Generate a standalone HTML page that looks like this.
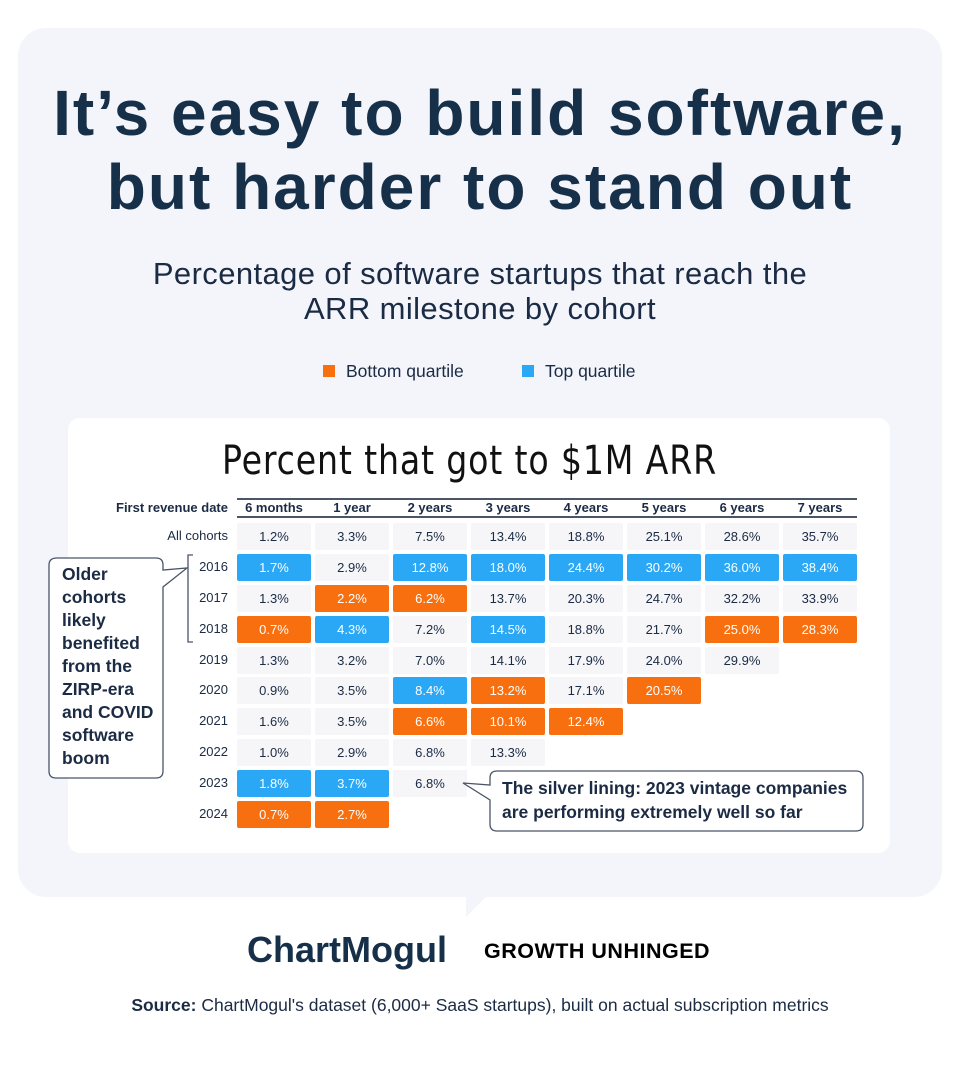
<!DOCTYPE html>
<html><head><meta charset="utf-8"><style>
*{margin:0;padding:0;box-sizing:border-box}
body{width:960px;height:1075px;background:#fff;position:relative;font-family:"Liberation Sans",sans-serif;color:#1b2b44;overflow:hidden}
.a{position:absolute}
.panel{left:18px;top:28px;width:924px;height:869px;background:#f4f5fb;border-radius:28px}
.tail{left:466px;top:895px;width:0;height:0;border-left:0 solid transparent;border-right:22px solid transparent;border-top:22px solid #f4f5fb}
.card{left:68px;top:418px;width:822px;height:435px;background:#fff;border-radius:12px}
.t{width:960px;text-align:center;font-weight:bold;font-size:64px;letter-spacing:2px;color:#17304a;white-space:nowrap}
.s{width:960px;text-align:center;font-size:31px;letter-spacing:0.4px;color:#1b2b44}
.c{width:74px;height:27px;line-height:27px;text-align:center;font-size:13px;background:#f6f6f8;border-radius:2px;color:#1b2b44}
.B{background:#2aa8f5;color:#fff}
.O{background:#f76f0f;color:#fff}
.h{font-size:13px;font-weight:bold;width:74px;text-align:center;top:500px}
.y{left:150px;width:78px;text-align:right;font-size:13px}
</style></head><body>
<div class="a panel"></div>
<div class="a tail"></div>
<div class="a t" style="top:76px">It’s easy to build software,</div>
<div class="a t" style="top:150px">but harder to stand out</div>
<div class="a s" style="top:256px">Percentage of software startups that reach the</div>
<div class="a s" style="top:291px">ARR milestone by cohort</div>
<div class="a" style="left:323px;top:365px;width:12px;height:12px;background:#f76f0f"></div>
<div class="a" style="left:346px;top:361px;font-size:17.5px">Bottom quartile</div>
<div class="a" style="left:522px;top:365px;width:12px;height:12px;background:#2aa8f5"></div>
<div class="a" style="left:545px;top:361px;font-size:17.5px">Top quartile</div>
<div class="a card"></div>
<div class="a" style="left:222px;top:438px;font-size:40px;color:#111;transform:scaleX(0.83);transform-origin:left;font-family:'DejaVu Sans','Liberation Sans',sans-serif;font-weight:normal;letter-spacing:1px">Percent that got to $1M ARR</div>
<div class="a" style="left:237px;top:498px;width:620px;height:2px;background:#4a5568"></div>
<div class="a" style="left:237px;top:516px;width:620px;height:2px;background:#4a5568"></div>
<div class="a" style="left:80px;top:500px;width:148px;text-align:right;font-size:13px;font-weight:bold">First revenue date</div>
<div class="a h" style="left:237px">6 months</div><div class="a h" style="left:315px">1 year</div><div class="a h" style="left:393px">2 years</div><div class="a h" style="left:471px">3 years</div><div class="a h" style="left:549px">4 years</div><div class="a h" style="left:627px">5 years</div><div class="a h" style="left:705px">6 years</div><div class="a h" style="left:783px">7 years</div>

<div class="a y" style="top:528px">All cohorts</div>
<div class="a c" style="left:237px;top:523px">1.2%</div><div class="a c" style="left:315px;top:523px">3.3%</div><div class="a c" style="left:393px;top:523px">7.5%</div><div class="a c" style="left:471px;top:523px">13.4%</div><div class="a c" style="left:549px;top:523px">18.8%</div><div class="a c" style="left:627px;top:523px">25.1%</div><div class="a c" style="left:705px;top:523px">28.6%</div><div class="a c" style="left:783px;top:523px">35.7%</div>

<div class="a y" style="top:559px">2016</div>
<div class="a c B" style="left:237px;top:554px">1.7%</div><div class="a c" style="left:315px;top:554px">2.9%</div><div class="a c B" style="left:393px;top:554px">12.8%</div><div class="a c B" style="left:471px;top:554px">18.0%</div><div class="a c B" style="left:549px;top:554px">24.4%</div><div class="a c B" style="left:627px;top:554px">30.2%</div><div class="a c B" style="left:705px;top:554px">36.0%</div><div class="a c B" style="left:783px;top:554px">38.4%</div>

<div class="a y" style="top:590px">2017</div>
<div class="a c" style="left:237px;top:585px">1.3%</div><div class="a c O" style="left:315px;top:585px">2.2%</div><div class="a c O" style="left:393px;top:585px">6.2%</div><div class="a c" style="left:471px;top:585px">13.7%</div><div class="a c" style="left:549px;top:585px">20.3%</div><div class="a c" style="left:627px;top:585px">24.7%</div><div class="a c" style="left:705px;top:585px">32.2%</div><div class="a c" style="left:783px;top:585px">33.9%</div>

<div class="a y" style="top:621px">2018</div>
<div class="a c O" style="left:237px;top:616px">0.7%</div><div class="a c B" style="left:315px;top:616px">4.3%</div><div class="a c" style="left:393px;top:616px">7.2%</div><div class="a c B" style="left:471px;top:616px">14.5%</div><div class="a c" style="left:549px;top:616px">18.8%</div><div class="a c" style="left:627px;top:616px">21.7%</div><div class="a c O" style="left:705px;top:616px">25.0%</div><div class="a c O" style="left:783px;top:616px">28.3%</div>

<div class="a y" style="top:652px">2019</div>
<div class="a c" style="left:237px;top:647px">1.3%</div><div class="a c" style="left:315px;top:647px">3.2%</div><div class="a c" style="left:393px;top:647px">7.0%</div><div class="a c" style="left:471px;top:647px">14.1%</div><div class="a c" style="left:549px;top:647px">17.9%</div><div class="a c" style="left:627px;top:647px">24.0%</div><div class="a c" style="left:705px;top:647px">29.9%</div>

<div class="a y" style="top:682px">2020</div>
<div class="a c" style="left:237px;top:677px">0.9%</div><div class="a c" style="left:315px;top:677px">3.5%</div><div class="a c B" style="left:393px;top:677px">8.4%</div><div class="a c O" style="left:471px;top:677px">13.2%</div><div class="a c" style="left:549px;top:677px">17.1%</div><div class="a c O" style="left:627px;top:677px">20.5%</div>

<div class="a y" style="top:713px">2021</div>
<div class="a c" style="left:237px;top:708px">1.6%</div><div class="a c" style="left:315px;top:708px">3.5%</div><div class="a c O" style="left:393px;top:708px">6.6%</div><div class="a c O" style="left:471px;top:708px">10.1%</div><div class="a c O" style="left:549px;top:708px">12.4%</div>

<div class="a y" style="top:744px">2022</div>
<div class="a c" style="left:237px;top:739px">1.0%</div><div class="a c" style="left:315px;top:739px">2.9%</div><div class="a c" style="left:393px;top:739px">6.8%</div><div class="a c" style="left:471px;top:739px">13.3%</div>

<div class="a y" style="top:775px">2023</div>
<div class="a c B" style="left:237px;top:770px">1.8%</div><div class="a c B" style="left:315px;top:770px">3.7%</div><div class="a c" style="left:393px;top:770px">6.8%</div>

<div class="a y" style="top:806px">2024</div>
<div class="a c O" style="left:237px;top:801px">0.7%</div><div class="a c O" style="left:315px;top:801px">2.7%</div>

<svg class="a" style="left:0;top:0" width="960" height="1075">
<path d="M193 555 H188 V642 H193" fill="none" stroke="#4a5568" stroke-width="1.3"/>
<path d="M57 558 H156 Q163 558 163 565 V570 L187 568 L163 587 V771 Q163 778 156 778 H56 Q49 778 49 771 V565 Q49 558 57 558 Z" fill="#fff" stroke="#4a5568" stroke-width="1.3"/>
<path d="M497 771 H856 Q863 771 863 778 V824 Q863 831 856 831 H497 Q490 831 490 824 V800 L463 783 L490 785 V778 Q490 771 497 771 Z" fill="#fff" stroke="#4a5568" stroke-width="1.3"/>
</svg>
<div class="a" style="left:62px;top:563px;font-size:17.5px;font-weight:bold;line-height:23px">Older<br>cohorts<br>likely<br>benefited<br>from the<br>ZIRP-era<br>and COVID<br>software<br>boom</div>
<div class="a" style="left:502px;top:776px;font-size:17.5px;font-weight:bold;line-height:24px">The silver lining: 2023 vintage companies<br>are performing extremely well so far</div>

<div class="a" style="left:247px;top:929px;font-size:36px;font-weight:bold;color:#17304a;letter-spacing:0px">ChartMogul</div>
<div class="a" style="left:484px;top:939px;font-size:21.5px;font-weight:900;color:#000;letter-spacing:0.5px">GROWTH UNHINGED</div>
<div class="a" style="left:0;top:995px;width:960px;text-align:center;font-size:17.5px;color:#1b2b44"><b>Source:</b> ChartMogul's dataset (6,000+ SaaS startups), built on actual subscription metrics</div>
</body></html>
